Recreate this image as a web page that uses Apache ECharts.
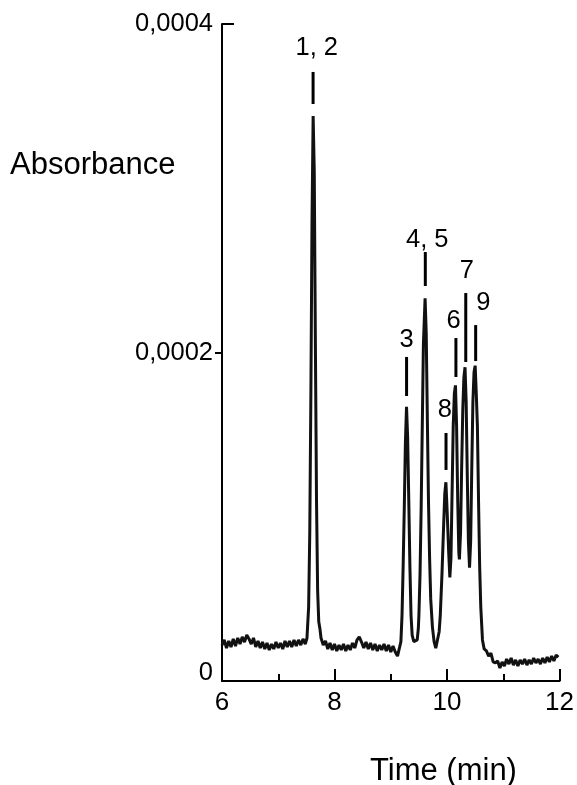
<!DOCTYPE html>
<html>
<head>
<meta charset="utf-8">
<script src="https://cdn.jsdelivr.net/npm/echarts@6/dist/echarts.min.js"></script>
<style>
html,body{margin:0;padding:0;background:#fff;overflow:hidden;}
#chart{width:577px;height:785px;}
</style>
</head>
<body>
<div id="chart"></div>
<script>
// Retention time (min)
const times = [
  6.00,6.04,6.08,6.12,6.16,6.20,6.24,6.28,6.32,6.36,6.40,6.44,6.48,6.52,6.56,6.60,6.64,6.68,6.72,6.76,
  6.80,6.84,6.88,6.92,6.96,7.00,7.04,7.08,7.12,7.16,7.20,7.24,7.28,7.32,7.36,7.40,7.44,7.48,
  7.51,7.54,7.56,7.58,7.60,7.62,7.64,7.66,7.68,7.70,7.72,7.74,
  7.76,7.80,7.84,7.88,7.92,7.96,8.00,8.04,8.08,8.12,8.16,8.20,8.24,8.28,8.32,8.36,8.40,8.44,8.48,8.52,
  8.56,8.60,8.64,8.68,8.72,8.76,8.80,8.84,8.88,8.92,8.96,9.00,9.04,9.08,9.12,9.15,
  9.18,9.20,9.22,9.24,9.26,9.28,9.30,9.32,9.34,9.36,9.38,9.41,9.44,9.47,9.49,
  9.50,9.52,9.54,9.56,9.58,9.61,9.63,9.65,9.67,9.69,9.71,9.74,9.77,9.80,9.83,9.86,
  9.88,9.91,9.94,9.96,9.98,10.00,10.03,10.05,
  10.07,10.09,10.11,10.13,10.15,10.17,10.19,10.21,10.22,
  10.24,10.26,10.28,10.30,10.32,10.34,10.36,10.38,10.40,
  10.42,10.44,10.46,10.48,10.50,10.52,10.54,10.56,10.58,10.60,10.63,
  10.66,10.70,10.74,10.78,10.82,10.86,10.90,10.94,10.98,11.02,11.06,11.10,11.14,11.18,11.22,11.26,11.30,
  11.34,11.38,11.42,11.46,11.50,11.54,11.58,11.62,11.66,11.70,11.74,11.78,11.82,11.86,11.90,11.94,11.98
];
// Absorbance
const absorbance = [
  2.19e-5,2.50e-5,2.01e-5,2.44e-5,2.07e-5,2.56e-5,2.13e-5,2.62e-5,2.25e-5,2.68e-5,2.37e-5,2.80e-5,2.56e-5,2.25e-5,2.62e-5,2.07e-5,2.44e-5,2.01e-5,2.37e-5,1.95e-5,
  2.31e-5,1.89e-5,2.25e-5,1.95e-5,2.37e-5,2.01e-5,2.31e-5,1.95e-5,2.44e-5,2.07e-5,2.44e-5,2.07e-5,2.50e-5,2.13e-5,2.50e-5,2.19e-5,2.56e-5,2.25e-5,
  2.6e-5,4.5e-5,9.0e-5,1.75e-4,2.80e-4,3.44e-4,3.10e-4,2.05e-4,1.10e-4,5.5e-5,3.6e-5,3.2e-5,
  2.62e-5,2.19e-5,2.44e-5,1.95e-5,2.31e-5,1.89e-5,2.25e-5,1.83e-5,2.19e-5,1.89e-5,2.25e-5,1.83e-5,2.19e-5,1.89e-5,2.31e-5,2.01e-5,2.50e-5,2.68e-5,2.37e-5,2.01e-5,
  2.37e-5,1.95e-5,2.31e-5,1.89e-5,2.25e-5,1.83e-5,2.19e-5,1.89e-5,2.25e-5,1.83e-5,2.19e-5,1.77e-5,2.13e-5,1.77e-5,1.52e-5,1.95e-5,
  2.4e-5,4.0e-5,7.0e-5,1.05e-4,1.45e-4,1.67e-4,1.48e-4,1.10e-4,7.0e-5,4.0e-5,2.8e-5,2.4e-5,2.3e-5,2.5e-5,3.2e-5,
  4.0e-5,6.5e-5,1.05e-4,1.55e-4,2.05e-4,2.33e-4,2.12e-4,1.60e-4,1.10e-4,7.5e-5,5.0e-5,3.3e-5,2.4e-5,2.0e-5,2.1e-5,3.0e-5,
  4.0e-5,6.5e-5,9.5e-5,1.14e-4,1.21e-4,1.05e-4,7.8e-5,6.3e-5,
  7.5e-5,1.15e-4,1.55e-4,1.75e-4,1.80e-4,1.55e-4,1.10e-4,7.8e-5,7.4e-5,
  9.0e-5,1.30e-4,1.65e-4,1.85e-4,1.91e-4,1.70e-4,1.25e-4,8.5e-5,6.9e-5,
  8.5e-5,1.30e-4,1.70e-4,1.88e-4,1.92e-4,1.75e-4,1.55e-4,1.10e-4,7.0e-5,4.5e-5,2.5e-5,
  1.95e-5,1.83e-5,1.52e-5,1.70e-5,1.16e-5,1.10e-5,1.22e-5,0.79e-5,1.16e-5,0.91e-5,1.34e-5,1.03e-5,1.40e-5,0.97e-5,1.28e-5,0.91e-5,1.28e-5,
  1.03e-5,1.34e-5,0.97e-5,1.28e-5,1.03e-5,1.40e-5,1.10e-5,1.34e-5,1.03e-5,1.40e-5,1.10e-5,1.46e-5,1.16e-5,1.52e-5,1.22e-5,1.58e-5,1.46e-5
];
// Peak annotations
const peakLabels = ['1, 2','3','4, 5','8','6','7','9'];
const markerTime = [7.619, 9.281, 9.614, 9.982, 10.158, 10.333, 10.509];
const markerTop = [3.708e-4, 1.973e-4, 2.612e-4, 1.510e-4, 2.088e-4, 2.362e-4, 2.167e-4];
const markerBottom = [3.513e-4, 1.735e-4, 2.405e-4, 1.285e-4, 1.851e-4, 1.942e-4, 1.948e-4];
const labelTime = [7.684, 9.281, 9.649, 9.960, 10.118, 10.351, 10.644];
const labelValue = [3.854e-4, 2.076e-4, 2.685e-4, 1.650e-4, 2.193e-4, 2.498e-4, 2.299e-4];
// Axis ticks
const xTicks = [6, 8, 10, 12];
const yTicks = [0, 0.0002, 0.0004];

const FONT = "'Liberation Sans', Arial, Helvetica, sans-serif";
const chart = echarts.init(document.getElementById('chart'), null, {renderer: 'canvas', width: 577, height: 785});

const traceData = times.map((t, i) => [t, absorbance[i]]);
const markerData = peakLabels.map((_, i) => [markerTime[i], markerTop[i], markerBottom[i], labelTime[i], labelValue[i]]);

chart.setOption({
  animation: false,
  backgroundColor: '#fff',
  title: [
    {text: 'Absorbance', left: 10, top: 150, padding: 0, textStyle: {fontFamily: FONT, fontSize: 31, fontWeight: 'normal', color: '#000'}},
    {text: 'Time (min)', left: 370, top: 756, padding: 0, textStyle: {fontFamily: FONT, fontSize: 31, fontWeight: 'normal', color: '#000'}}
  ],
  grid: {left: 222, right: 13, top: 24, bottom: 104, containLabel: false},
  xAxis: {
    type: 'value', min: xTicks[0], max: xTicks[xTicks.length - 1], interval: 2,
    axisLine: {show: true, onZero: false, lineStyle: {color: '#000', width: 2}},
    axisTick: {show: true, inside: true, length: 12, lineStyle: {color: '#000', width: 2}},
    minorTick: {show: true, splitNumber: 2, length: 7, lineStyle: {color: '#000', width: 2}},
    axisLabel: {show: true, margin: 9, fontFamily: FONT, fontSize: 26, color: '#000'},
    splitLine: {show: false}
  },
  yAxis: [
    {
      type: 'value', min: 0, max: yTicks[yTicks.length - 1], interval: 0.0002,
      axisLine: {show: true, lineStyle: {color: '#000', width: 2}},
      axisTick: {show: true, inside: false, length: 7, customValues: [yTicks[1]], lineStyle: {color: '#000', width: 2}},
      axisLabel: {
        show: true, margin: 9, fontFamily: FONT, fontSize: 25.5, color: '#000',
        formatter: v => v === 0 ? '{z|0}' : v.toFixed(4).replace('.', ','),
        rich: {z: {fontFamily: FONT, fontSize: 25.5, color: '#000', padding: [0, 0, 16, 0]}}
      },
      splitLine: {show: false}
    },
    {
      type: 'value', min: 0, max: yTicks[yTicks.length - 1], position: 'left',
      axisLine: {show: false},
      axisTick: {show: true, inside: true, length: 12, customValues: [yTicks[2]], lineStyle: {color: '#000', width: 2}},
      axisLabel: {show: false},
      splitLine: {show: false}
    }
  ],
  series: [
    {
      type: 'line', data: traceData, showSymbol: false, symbol: 'none',
      lineStyle: {color: '#111', width: 3}, clip: false
    },
    {
      type: 'custom', data: markerData, clip: false,
      encode: {x: 0, y: 1},
      renderItem: function (params, api) {
        const top = api.coord([api.value(0), api.value(1)]);
        const bot = api.coord([api.value(0), api.value(2)]);
        const txt = api.coord([api.value(3), api.value(4)]);
        return {
          type: 'group',
          children: [
            {type: 'line', shape: {x1: top[0], y1: top[1], x2: bot[0], y2: bot[1]}, style: {stroke: '#000', lineWidth: 3}},
            {type: 'text', style: {text: peakLabels[params.dataIndex], x: txt[0], y: txt[1], align: 'center', verticalAlign: 'middle', font: '25.5px ' + FONT, fill: '#000'}}
          ]
        };
      }
    }
  ]
});
</script>
</body>
</html>
